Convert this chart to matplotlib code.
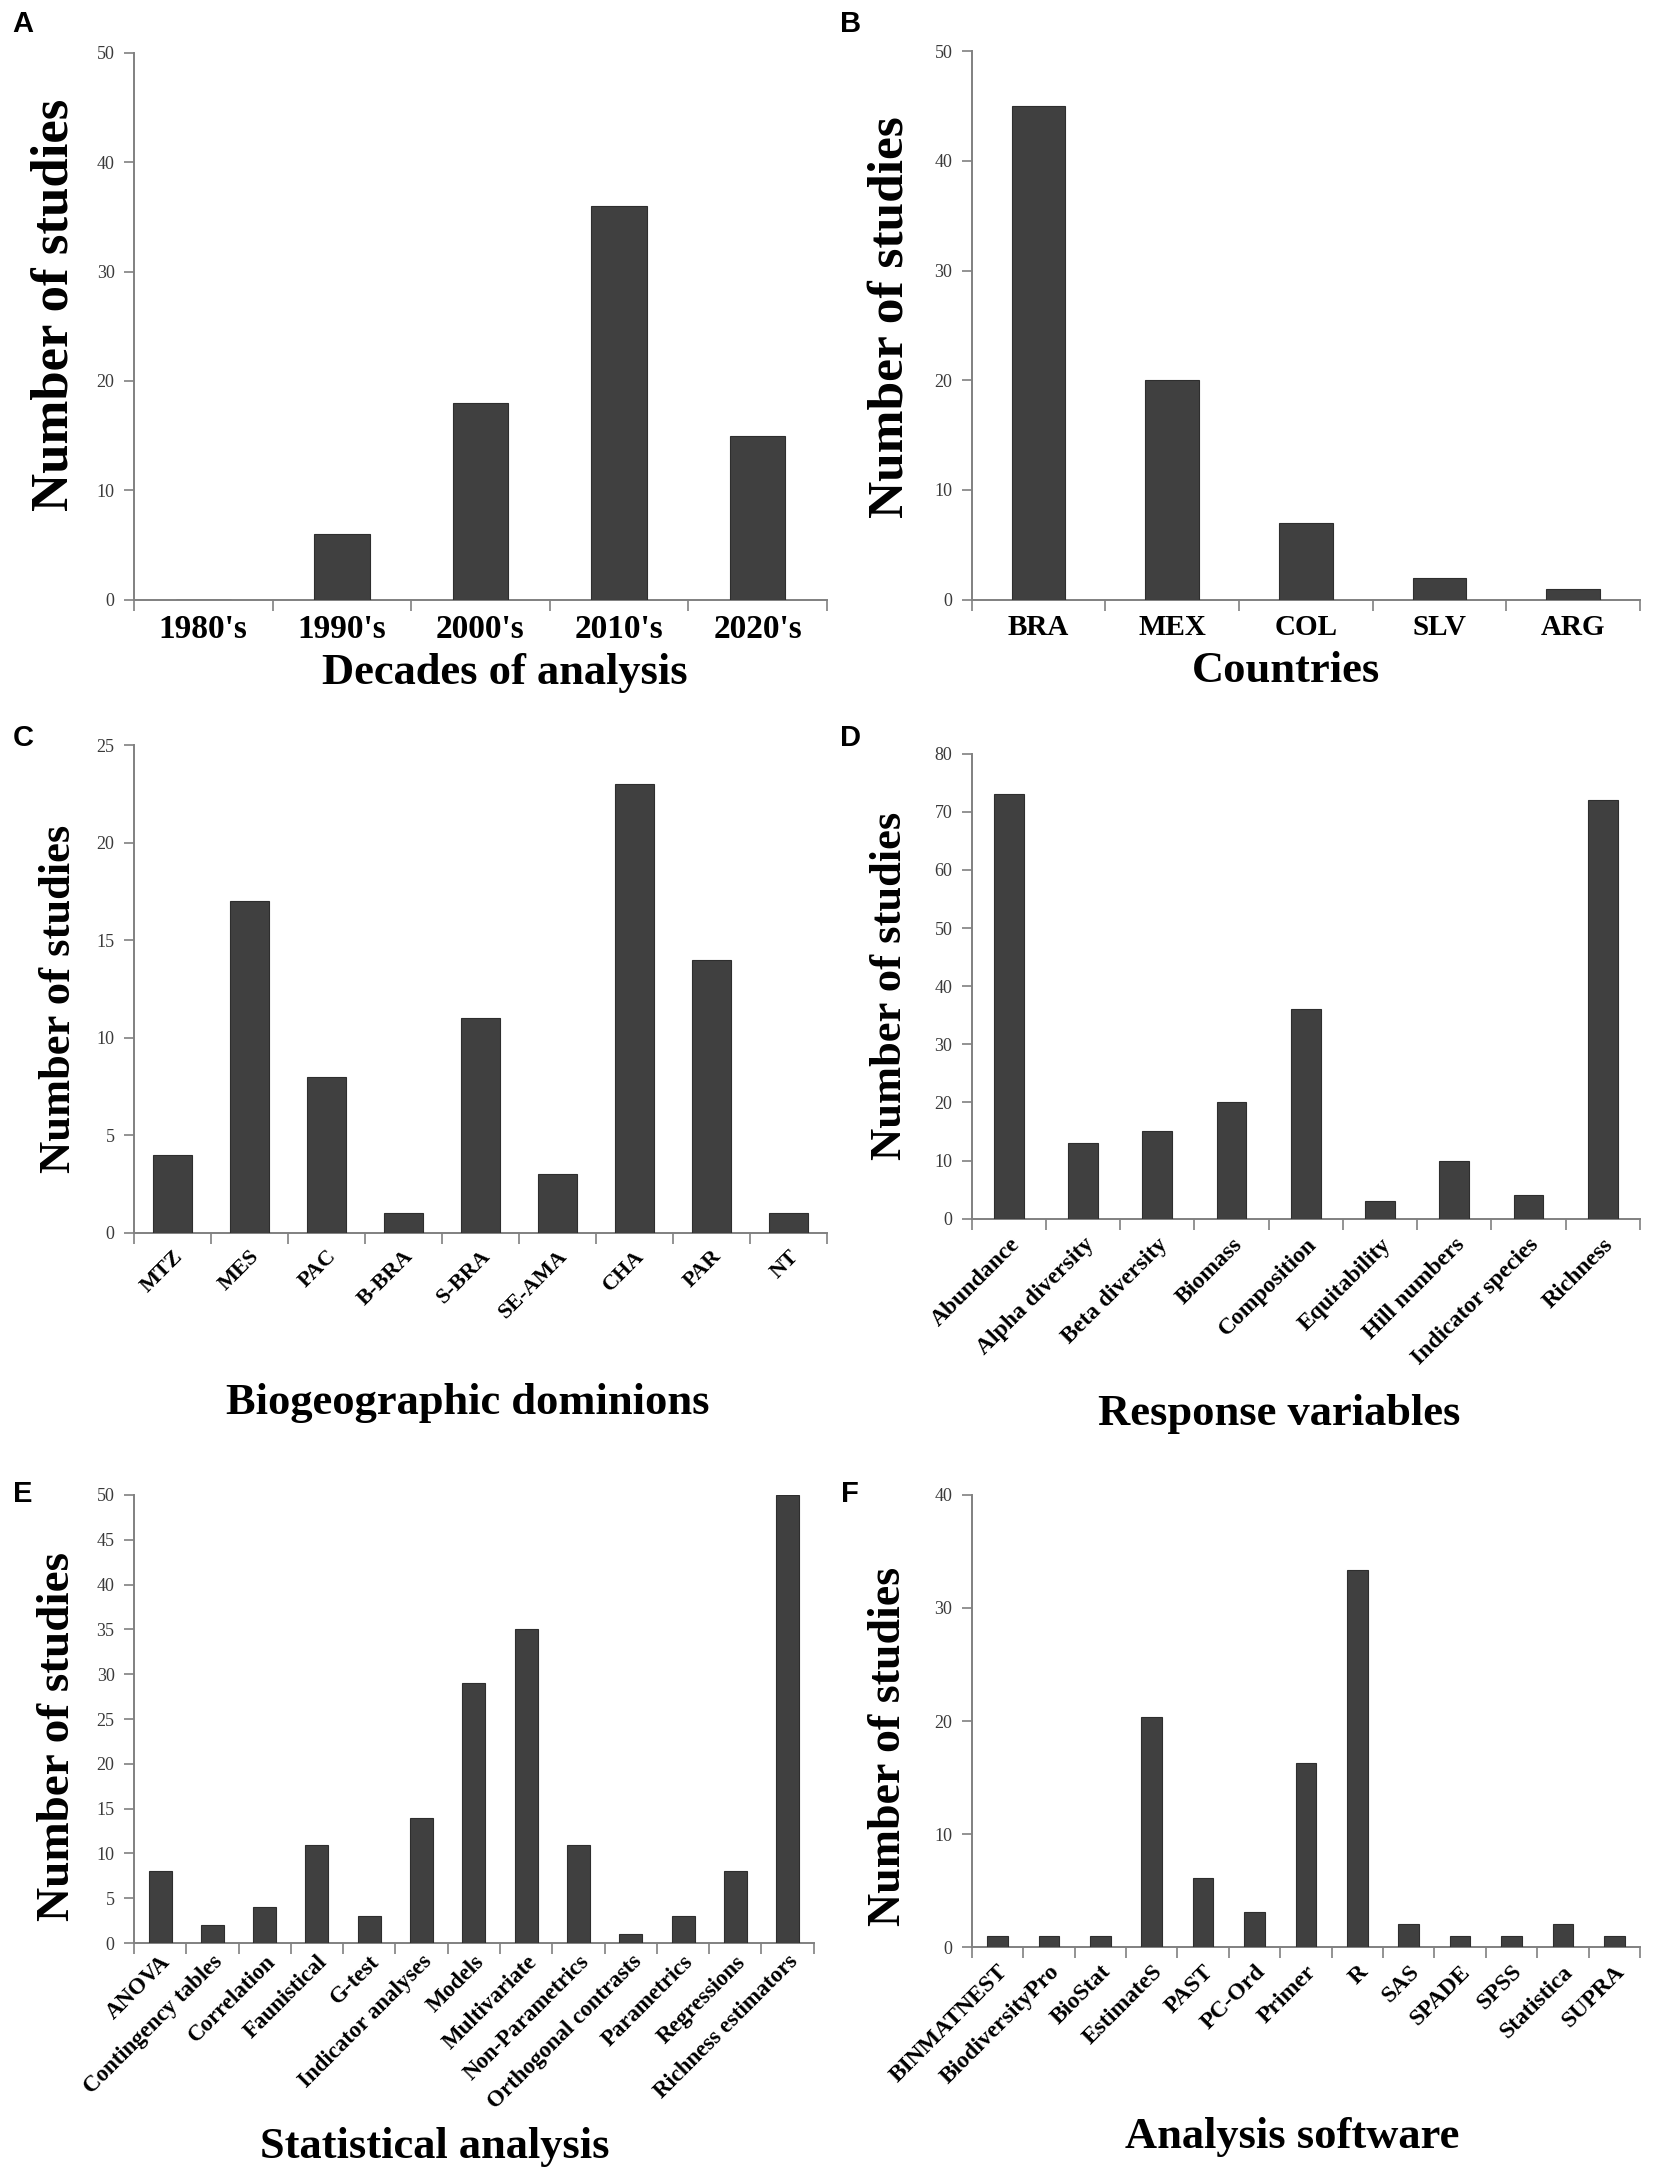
import matplotlib
matplotlib.use("Agg")
import numpy as np
import matplotlib.pyplot as plt
from matplotlib.ticker import FixedLocator, NullFormatter

# data
decades = ["1980's", "1990's", "2000's", "2010's", "2020's"]
decade_counts = [0, 6, 18, 36, 15]

countries = ["BRA", "MEX", "COL", "SLV", "ARG"]
country_counts = [45, 20, 7, 2, 1]

dominions = ["MTZ", "MES", "PAC", "B-BRA", "S-BRA", "SE-AMA", "CHA", "PAR", "NT"]
dominion_counts = [4, 17, 8, 1, 11, 3, 23, 14, 1]

responses = ["Abundance", "Alpha diversity", "Beta diversity", "Biomass", "Composition",
             "Equitability", "Hill numbers", "Indicator species", "Richness"]
response_counts = [73, 13, 15, 20, 36, 3, 10, 4, 72]

analyses = ["ANOVA", "Contingency tables", "Correlation", "Faunistical", "G-test",
            "Indicator analyses", "Models", "Multivariate", "Non-Parametrics",
            "Orthogonal contrasts", "Parametrics", "Regressions", "Richness estimators"]
analysis_counts = [8, 2, 4, 11, 3, 14, 29, 35, 11, 1, 3, 8, 50]

software = ["BINMATNEST", "BiodiversityPro", "BioStat", "EstimateS", "PAST", "PC-Ord",
            "Primer", "R", "SAS", "SPADE", "SPSS", "Statistica", "SUPRA"]
software_counts = [1, 1, 1, 20.4, 6.1, 3.1, 16.3, 33.4, 2.1, 1, 1, 2.1, 1]

SERIF = "Liberation Serif"
BAR = "#404040"
AXC = "#808080"

fig = plt.figure(figsize=(16.54, 21.75), dpi=100)

panels = [
    # letter, letter pos, rect, cats, vals, ymax, ystep, xlabel, rot, tick fs, pad,
    # bar width, ylabel fs, xlabel pos, ylabel pos
    ("A", (0.014, 0.989), [0.081, 0.7243, 0.419, 0.2514], decades, decade_counts, 50, 10,
     "Decades of analysis", 0, 24, 10, 0.4, 38, (0.535, -0.135), (-0.08, 0.54)),
    ("B", (0.514, 0.989), [0.5875, 0.7243, 0.404, 0.2521], countries, country_counts, 50, 10,
     "Countries", 0, 21, 10, 0.4, 37, (0.47, -0.13), (-0.087, 0.516)),
    ("C", (0.014, 0.6605), [0.081, 0.4333, 0.419, 0.224], dominions, dominion_counts, 25, 5,
     "Biogeographic dominions", 45, 16, 10, 0.5, 32, (0.482, -0.349), (-0.08, 0.48)),
    ("D", (0.514, 0.6605), [0.5875, 0.4397, 0.404, 0.2138], responses, response_counts, 80, 10,
     "Response variables", 45, 17, 11, 0.4, 32, (0.46, -0.42), (-0.093, 0.5)),
    ("E", (0.014, 0.3133), [0.081, 0.1066, 0.411, 0.2061], analyses, analysis_counts, 50, 5,
     "Statistical analysis", 45, 16.5, 6, 0.44, 34, (0.443, -0.455), (-0.081, 0.46)),
    ("F", (0.514, 0.3133), [0.5875, 0.1047, 0.404, 0.208], software, software_counts, 40, 10,
     "Analysis software", 45, 17, 10, 0.4, 33, (0.48, -0.42), (-0.093, 0.445)),
]

for (letter, lpos, rect, cats, vals, ymax, ystep, xlab, rot, tfs, tpad,
     bw, yfs, xpos, ypos) in panels:
    ax = fig.add_axes(rect)
    x = np.arange(len(cats))
    ax.bar(x, vals, width=bw, color=BAR, edgecolor="#2e2e2e", linewidth=0.8, zorder=3)
    ax.set_xlim(-0.5, len(cats) - 0.5)
    ax.set_ylim(0, ymax)
    ax.set_yticks(np.arange(0, ymax + 0.1, ystep))
    for s in ["top", "right"]:
        ax.spines[s].set_visible(False)
    for s in ["left", "bottom"]:
        ax.spines[s].set_color(AXC)
        ax.spines[s].set_linewidth(1.4)
    ax.tick_params(axis="y", direction="out", length=7, width=1.2, color=AXC,
                   labelsize=13, labelcolor="#3a3a3a", pad=7)
    for t in ax.get_yticklabels():
        t.set_fontfamily(SERIF)
    # category labels at centres, tick marks at boundaries
    ax.set_xticks(x)
    ax.tick_params(axis="x", which="major", length=0, pad=tpad)
    ax.xaxis.set_minor_locator(FixedLocator(np.arange(-0.5, len(cats), 1.0)))
    ax.xaxis.set_minor_formatter(NullFormatter())
    ax.tick_params(axis="x", which="minor", direction="out", length=8, width=1.2, color=AXC)
    if rot:
        ax.set_xticklabels(cats, rotation=rot, ha="right", rotation_mode="anchor",
                           fontsize=tfs, fontweight="bold", fontfamily=SERIF)
    else:
        ax.set_xticklabels(cats, fontsize=tfs, fontweight="bold", fontfamily=SERIF)

    ax.set_ylabel("Number of studies", fontsize=yfs, fontweight="bold", fontfamily=SERIF)
    ax.yaxis.set_label_coords(*ypos)
    ax.set_xlabel(xlab, fontsize=32, fontweight="bold", fontfamily=SERIF, va="center")
    ax.xaxis.set_label_coords(*xpos)

    fig.text(lpos[0], lpos[1], letter, fontsize=21, fontweight="bold",
             fontfamily="Liberation Sans", ha="center", va="center")

fig.savefig("out.png", dpi=100, facecolor="white")
